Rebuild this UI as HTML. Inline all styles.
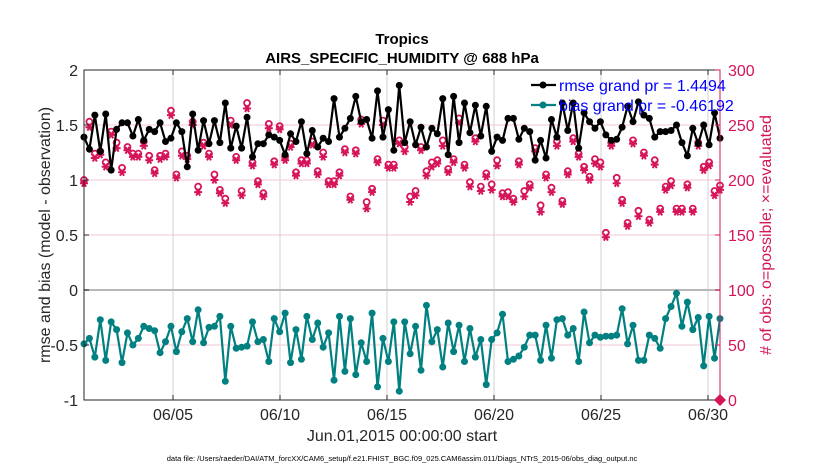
<!DOCTYPE html>
<html><head><meta charset="utf-8"><style>
body{margin:0;background:#fff;width:830px;height:470px;overflow:hidden;font-family:"Liberation Sans",sans-serif}
</style></head><body>
<svg id="chart" width="830" height="470" xmlns="http://www.w3.org/2000/svg" font-family="Liberation Sans, sans-serif"></svg>
<script>
const rmse=[1.39,1.28,1.59,1.26,1.60,1.09,1.46,1.52,1.52,1.40,1.55,1.36,1.46,1.44,1.52,1.35,1.38,1.52,1.44,1.12,1.60,1.27,1.54,1.33,1.54,1.34,1.70,1.29,1.49,1.29,
1.57,1.21,1.33,1.33,1.41,1.39,1.36,1.23,1.42,1.35,1.53,1.24,1.45,1.30,1.38,1.35,1.74,1.39,1.47,1.56,1.76,1.53,1.55,1.38,1.81,1.39,1.64,1.27,1.86,
1.34,1.53,1.32,1.48,1.30,1.47,1.42,1.74,1.23,1.76,1.34,1.70,1.43,1.68,1.40,1.67,1.26,1.39,1.36,1.56,1.56,1.37,1.47,1.44,1.18,1.36,1.20,1.55,1.39,
1.70,1.45,1.70,1.29,1.61,1.53,1.47,1.53,1.41,1.36,1.37,1.48,1.67,1.53,1.71,1.59,1.56,1.39,1.44,1.44,1.45,1.50,1.34,1.22,1.47,1.33,1.50,1.32,1.61,1.38];
const bias=[-0.49,-0.44,-0.61,-0.27,-0.64,-0.29,-0.36,-0.66,-0.39,-0.50,-0.44,-0.33,-0.35,-0.37,-0.57,-0.47,-0.33,-0.56,-0.38,-0.26,-0.47,-0.18,-0.48,-0.34,-0.33,-0.24,-0.83,-0.33,-0.53,-0.52,
-0.51,-0.29,-0.47,-0.45,-0.65,-0.26,-0.38,-0.21,-0.66,-0.36,-0.63,-0.24,-0.45,-0.30,-0.52,-0.39,-0.82,-0.24,-0.74,-0.26,-0.77,-0.48,-0.65,-0.21,-0.88,-0.44,-0.65,-0.29,-0.92,
-0.29,-0.58,-0.33,-0.73,-0.14,-0.47,-0.36,-0.70,-0.30,-0.56,-0.32,-0.65,-0.35,-0.61,-0.45,-0.86,-0.45,-0.39,-0.22,-0.65,-0.63,-0.60,-0.52,-0.41,-0.41,-0.64,-0.32,-0.62,-0.27,
-0.26,-0.41,-0.35,-0.65,-0.20,-0.48,-0.41,-0.43,-0.42,-0.42,-0.41,-0.17,-0.49,-0.32,-0.64,-0.64,-0.41,-0.44,-0.53,-0.26,-0.15,-0.03,-0.33,-0.11,-0.36,-0.25,-0.69,-0.24,-0.62,-0.26];
const nEval=[197,248,220,223,212,241,229,207,227,221,221,231,218,206,219,221,259,202,222,219,250,189,231,221,200,188,179,250,218,186,
265,213,196,185,247,214,246,218,230,204,215,215,232,205,221,196,196,204,225,182,224,251,174,189,216,250,211,211,233,
226,180,186,227,204,212,215,231,207,216,252,211,194,235,190,203,191,213,185,185,180,214,185,193,226,171,202,189,231,
178,205,235,221,209,200,215,212,148,231,197,179,158,233,167,222,161,214,171,191,195,171,171,193,171,231,209,213,186,191];
const nPoss=[200,253,224,226,216,244,234,211,230,224,224,235,222,209,222,224,263,205,226,222,253,194,234,224,205,191,183,254,221,190,
270,216,199,188,251,217,249,221,233,207,218,218,235,208,225,199,199,207,228,185,227,255,180,192,219,254,214,214,236,
230,185,190,230,208,216,218,236,210,219,256,214,198,238,194,206,196,218,188,189,183,217,190,196,229,177,205,193,235,
181,208,238,224,212,203,219,216,152,234,202,182,161,236,172,225,164,218,174,194,199,174,174,196,174,234,212,216,190,195];
const xTicks=[5,10,15,20,25,30];
const xTickLabels=["06/05","06/10","06/15","06/20","06/25","06/30"];
const yTicks=[2,1.5,1,0.5,0,-0.5,-1];
const yTickLabels=["2","1.5","1","0.5","0","-0.5","-1"];
const rTicks=[300,250,200,150,100,50,0];

const L=84,R=720,T=70,B=400;
const sx=d=>173+(d-5)*21.4;
const idxDay=i=>0.84+i*(29.72/(rmse.length-1));
const sy=v=>290-v*110;
const sr=c=>400-c*1.1;
const NS="http://www.w3.org/2000/svg";
const svg=document.getElementById('chart');
function mk(tag,attrs,parent){const e=document.createElementNS(NS,tag);for(const k in attrs)e.setAttribute(k,attrs[k]);(parent||svg).appendChild(e);return e;}
function txt(s,attrs){const e=mk('text',attrs);e.textContent=s;return e;}
const RED="#d6145a",TEAL="#008080";

// grid
xTicks.forEach((d,i)=>{const l=mk('line',{x1:sx(d),x2:sx(d),y1:T,y2:B,stroke:"#d0d0d0","stroke-width":1});

});
rTicks.forEach(c=>{if(c===300||c===0||c===100)return;const l=mk('line',{x1:L,x2:R,y1:sr(c),y2:sr(c),stroke:"#f4c6d6","stroke-width":1});

});
const z=mk('line',{x1:L,x2:R,y1:sy(0),y2:sy(0),stroke:"#b8b8b8","stroke-width":2});



// counts
function star(x,y,g){const r=4;let d="";for(let a=0;a<3;a++){const t=a*Math.PI/3;d+=`M${x-r*Math.cos(t)},${y-r*Math.sin(t)}L${x+r*Math.cos(t)},${y+r*Math.sin(t)}`;}d+=`M${x-r},${y}L${x+r},${y}`;return mk('path',{d:d,stroke:RED,"stroke-width":2},g);}
const gc=mk('g',{});


nPoss.forEach((c,i)=>{const m=mk('circle',{cx:sx(idxDay(i)),cy:sr(c),r:3,fill:"none",stroke:RED,"stroke-width":1.8},gc);

});
nEval.forEach((c,i)=>{const m=star(sx(idxDay(i)),sr(c),gc);

});
const dm=mk('path',{d:`M${R},${B-6}L${R+6},${B}L${R},${B+6}L${R-6},${B}Z`,fill:RED});



function series(vals,col,name){const g=mk('g',{});


mk('polyline',{points:vals.map((v,i)=>sx(idxDay(i))+","+sy(v)).join(" "),fill:"none",stroke:col,"stroke-width":2.2},g);
vals.forEach((v,i)=>{const c=mk('circle',{cx:sx(idxDay(i)),cy:sy(v),r:3.5,fill:col},g);

});}
series(rmse,"#000","rmse-series");
series(bias,TEAL,"bias-series");

// axes box
const bx=mk('rect',{x:L,y:T,width:R-L,height:B-T,fill:"none",stroke:"#262626","stroke-width":1});


yTicks.forEach((v,i)=>{mk('line',{x1:L,x2:L+5,y1:sy(v),y2:sy(v),stroke:"#262626"});
const t=txt(yTickLabels[i],{x:L-6,y:sy(v)+6,"text-anchor":"end","font-size":16,fill:"#262626"});

});
rTicks.forEach(c=>{mk('line',{x1:R-5,x2:R,y1:sr(c),y2:sr(c),stroke:RED});
const t=txt(String(c),{x:R+8,y:sr(c)+6,"font-size":16,fill:RED});

});
mk('line',{x1:R,x2:R,y1:T,y2:B,stroke:RED});
xTicks.forEach((d,i)=>{mk('line',{x1:sx(d),x2:sx(d),y1:B,y2:B-5,stroke:"#262626"});mk('line',{x1:sx(d),x2:sx(d),y1:T,y2:T+5,stroke:"#262626"});
const t=txt(xTickLabels[i],{x:sx(d),y:B+20,"text-anchor":"middle","font-size":16,fill:"#262626"});

});

// legend
const lg=mk('g',{});


mk('line',{x1:531,x2:556,y1:85,y2:85,stroke:"#000","stroke-width":2.2},lg);mk('circle',{cx:543,cy:85,r:3.5,fill:"#000"},lg);
mk('line',{x1:531,x2:556,y1:105,y2:105,stroke:TEAL,"stroke-width":2.2},lg);mk('circle',{cx:543,cy:105,r:3.5,fill:TEAL},lg);
let t1=txt("rmse grand pr = 1.4494",{x:559,y:91,"font-size":16,fill:"#0000ff"});lg.appendChild(t1);


let t2=txt("bias grand pr = -0.46192",{x:559,y:111,"font-size":16,fill:"#0000ff"});lg.appendChild(t2);



// titles
let a=txt("Tropics",{x:402,y:44,"text-anchor":"middle","font-size":15,"font-weight":"bold",fill:"#000"});


a=txt("AIRS_SPECIFIC_HUMIDITY @ 688 hPa",{x:402,y:63,"text-anchor":"middle","font-size":15,"font-weight":"bold",fill:"#000"});


a=txt("rmse and bias (model - observation)",{x:0,y:0,transform:"translate(50,235) rotate(-90)","text-anchor":"middle","font-size":16,fill:"#262626"});


a=txt("# of obs: o=possible; \u00d7=evaluated",{x:0,y:0,transform:"translate(771,235) rotate(-90)","text-anchor":"middle","font-size":16,fill:RED});


a=txt("Jun.01,2015 00:00:00 start",{x:402,y:441,"text-anchor":"middle","font-size":16,fill:"#262626"});


a=txt("data file: /Users/raeder/DAI/ATM_forcXX/CAM6_setup/f.e21.FHIST_BGC.f09_025.CAM6assim.011/Diags_NTrS_2015-06/obs_diag_output.nc",{x:402,y:461,"text-anchor":"middle","font-size":7.5,fill:"#000"});


</script>
</body></html>
